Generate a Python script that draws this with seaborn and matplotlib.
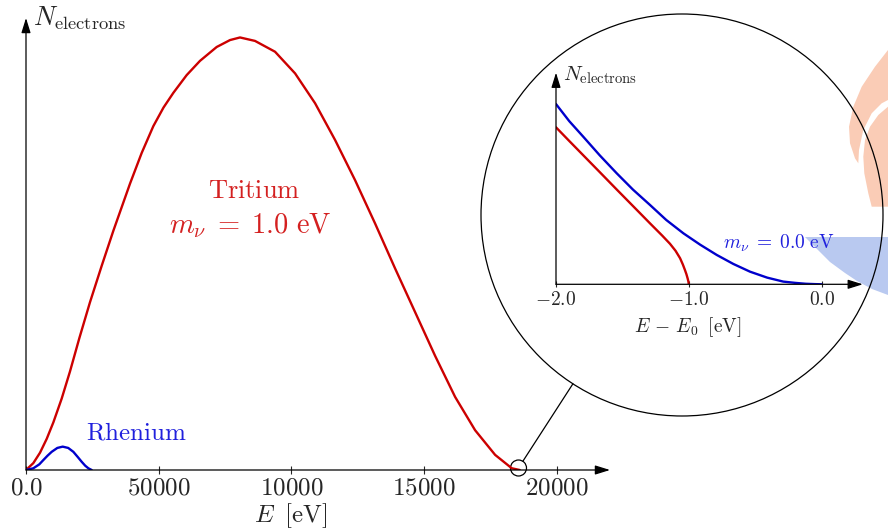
import numpy as np
import pandas as pd
import seaborn as sns
import matplotlib
matplotlib.use("Agg")
import matplotlib.pyplot as plt
from matplotlib.patches import Circle, Polygon

# ---------------- data ----------------
tritium_E = [0, 277, 528, 780, 1030, 1344, 1658, 2010, 2411, 2851, 3290, 3918, 4358,
             4797, 5180, 5551, 6053, 6556, 7184, 7686, 8062, 8628, 9382, 10136, 10889,
             11643, 12397, 13150, 13904, 14658, 15411, 16165, 16918, 17672, 18300, 18600]
tritium_N = [0.0, 0.016, 0.040, 0.072, 0.110, 0.165, 0.228, 0.305, 0.388, 0.472, 0.553,
             0.662, 0.733, 0.795, 0.838, 0.872, 0.913, 0.946, 0.978, 0.994, 1.0, 0.992,
             0.967, 0.917, 0.848, 0.763, 0.670, 0.570, 0.466, 0.365, 0.264, 0.169,
             0.092, 0.035, 0.004, 0.0]

rhenium_E = [0, 277, 500, 653, 810, 967, 1180, 1382, 1590, 1784, 1950, 2098, 2230,
             2349, 2475]
rhenium_N = [0.0, 0.004, 0.013, 0.023, 0.033, 0.042, 0.051, 0.054, 0.051, 0.042, 0.030,
             0.019, 0.010, 0.004, 0.0]

zoom_m0_dE = [-2.0, -1.9, -1.795, -1.67, -1.543, -1.42, -1.292, -1.17, -1.041, -0.915,
              -0.790, -0.665, -0.539, -0.41, -0.289, -0.2, -0.12, -0.05, 0.0]
zoom_m0_N = [1.0, 0.905, 0.819, 0.715, 0.616, 0.525, 0.440, 0.357, 0.283, 0.220,
             0.163, 0.113, 0.070, 0.037, 0.015, 0.008, 0.003, 0.001, 0.0]

zoom_m1_dE = [-2.0, -1.9, -1.795, -1.67, -1.543, -1.42, -1.292, -1.2, -1.142, -1.1,
              -1.066, -1.045, -1.029, -1.018, -1.009, -1.003, -1.0]
zoom_m1_N = [0.871, 0.795, 0.716, 0.622, 0.526, 0.434, 0.338, 0.270, 0.225, 0.186,
             0.145, 0.110, 0.079, 0.056, 0.033, 0.015, 0.0]

main_ticks = [0, 5000, 10000, 15000, 20000]
main_tick_labels = ["0.0", "50000", "10000", "15000", "20000"]
inset_ticks = [-2.0, -1.0, 0.0]
inset_tick_labels = ["-2.0", "-1.0", "0.0"]

RED = "#CC0000"
BLUE = "#0000CC"
RED_TXT = "#D42020"
BLUE_TXT = "#2020DD"

# ---------------- style ----------------
sns.set_style("white")
plt.rcParams["mathtext.fontset"] = "cm"
plt.rcParams["font.family"] = ["DejaVu Serif"]

W, H = 888, 530
fig = plt.figure(figsize=(W / 100, H / 100), dpi=100)

# background / overlay axes in pixel coordinates
bg = fig.add_axes([0, 0, 1, 1], zorder=0)
bg.set_xlim(0, W)
bg.set_ylim(H, 0)
bg.axis("off")

# decorative logo pieces
flame1 = [(888, 50), (875, 66.7), (861.7, 86.7), (853.3, 106.7), (849, 126.7), (850, 143.3),
          (855, 158.3), (858.3, 163.3), (859, 150), (863.3, 130), (871.7, 113.3),
          (881.7, 103.3), (888, 100)]
flame2 = [(888, 106.7), (878.3, 115), (870, 126.7), (865, 140), (863.3, 156.7),
          (864.3, 173.3), (868.3, 193.3), (871.7, 206.7), (888, 206.7)]
blue_piece = [(805, 237), (888, 237), (888, 295), (872, 289), (857, 281), (845, 273),
              (830, 262), (818, 250)]
for pts, col in [(flame1, "#FACCB6"), (flame2, "#FACCB6"), (blue_piece, "#B9C9F0")]:
    bg.add_patch(Polygon(pts, closed=True, facecolor=col, edgecolor="none", zorder=0))

# zoom circles and connector
big_c = np.array([682.0, 215.0]); big_r = 201.0
small_c = np.array([518.5, 468.0]); small_r = 8.0
bg.add_patch(Circle(big_c, big_r, facecolor="none", edgecolor="black", lw=0.9, zorder=1))
bg.add_patch(Circle(small_c, small_r, facecolor="none", edgecolor="black", lw=0.9, zorder=3))
u = (big_c - small_c) / np.linalg.norm(big_c - small_c)
p0 = small_c + u * small_r
p1 = big_c - u * big_r
bg.plot([p0[0], p1[0]], [p0[1], p1[1]], color="black", lw=0.9, zorder=1)

# ---------------- main axes ----------------
ax = fig.add_axes([26 / W, 60 / H, 584 / W, 452 / H], zorder=1)
ax.patch.set_visible(False)
for s in ax.spines.values():
    s.set_visible(False)
ax.set_xlim(0, 22000)
ax.set_ylim(0, 1.045)

df_t = pd.DataFrame({"E": tritium_E, "N": tritium_N})
df_r = pd.DataFrame({"E": rhenium_E, "N": rhenium_N})
sns.lineplot(data=df_t, x="E", y="N", ax=ax, color=RED, lw=1.7, sort=False, estimator=None)
sns.lineplot(data=df_r, x="E", y="N", ax=ax, color=BLUE, lw=1.7, sort=False, estimator=None)
for l in ax.lines:
    l.set_solid_joinstyle("round")

arrow_kw = dict(arrowstyle="-|>,head_length=0.9,head_width=0.28", color="black", lw=0.9,
                shrinkA=0, shrinkB=0)
ax.annotate("", xy=(1, 0), xytext=(0, 0), xycoords="axes fraction", arrowprops=arrow_kw)
ax.annotate("", xy=(0, 1), xytext=(0, 0), xycoords="axes fraction", arrowprops=arrow_kw)

ax.set_xticks(main_ticks)
ax.set_xticklabels([f"${t}$" for t in main_tick_labels], fontsize=18)
ax.set_yticks([])
ax.tick_params(axis="x", bottom=True, direction="inout", length=6, width=0.8, pad=2)
ax.set_xlabel("")
ax.set_ylabel("")

ax.text(0.39 * 22000, 0.647, r"$\mathrm{Tritium}$", color=RED_TXT, fontsize=19,
        ha="center", va="center")
ax.text(0.385 * 22000, 0.566, r"$m_\nu\;=\;1.0\ \mathrm{eV}$", color=RED_TXT, fontsize=20.5,
        ha="center", va="center")
ax.text(2250, 0.085, r"$\mathrm{Rhenium}$", color=BLUE_TXT, fontsize=18, ha="left",
        va="center")

bg.text(33, 26, r"$N_\mathrm{electrons}$", fontsize=19, ha="left", va="baseline")
bg.text(291, 516, r"$E\;\;[\mathrm{eV}]$", fontsize=18, ha="center", va="center")

# ---------------- inset axes ----------------
ax2 = fig.add_axes([556 / W, (H - 284.3) / H, 306.8 / W, 211.6 / H], zorder=2)
ax2.patch.set_visible(False)
for s in ax2.spines.values():
    s.set_visible(False)
ax2.set_xlim(-2.0, 0.31)
ax2.set_ylim(0, 1.174)

df_b = pd.DataFrame({"dE": zoom_m0_dE, "N": zoom_m0_N})
df_rr = pd.DataFrame({"dE": zoom_m1_dE, "N": zoom_m1_N})
sns.lineplot(data=df_b, x="dE", y="N", ax=ax2, color=BLUE, lw=1.7, sort=False, estimator=None)
sns.lineplot(data=df_rr, x="dE", y="N", ax=ax2, color=RED, lw=1.7, sort=False, estimator=None)
for l in ax2.lines:
    l.set_solid_joinstyle("round")

ax2.annotate("", xy=(1, 0), xytext=(0, 0), xycoords="axes fraction", arrowprops=arrow_kw)
ax2.annotate("", xy=(0, 1), xytext=(0, 0), xycoords="axes fraction", arrowprops=arrow_kw)
ax2.set_xticks(inset_ticks)
ax2.set_xticklabels([f"${t}$" for t in inset_tick_labels], fontsize=14)
ax2.set_yticks([])
ax2.tick_params(axis="x", bottom=True, direction="inout", length=5, width=0.8, pad=2)
ax2.set_xlabel("")
ax2.set_ylabel("")

bg.text(563, 80, r"$N_\mathrm{electrons}$", fontsize=15, ha="left", va="baseline")
bg.text(688, 327, r"$E\,-\,E_0\;\;[\mathrm{eV}]$", fontsize=14, ha="center", va="center")
bg.text(779, 243, r"$m_\nu\;=\;0.0\ \mathrm{eV}$", fontsize=14, color=BLUE_TXT,
        ha="center", va="center", zorder=5)

fig.savefig("out.png", dpi=100)
